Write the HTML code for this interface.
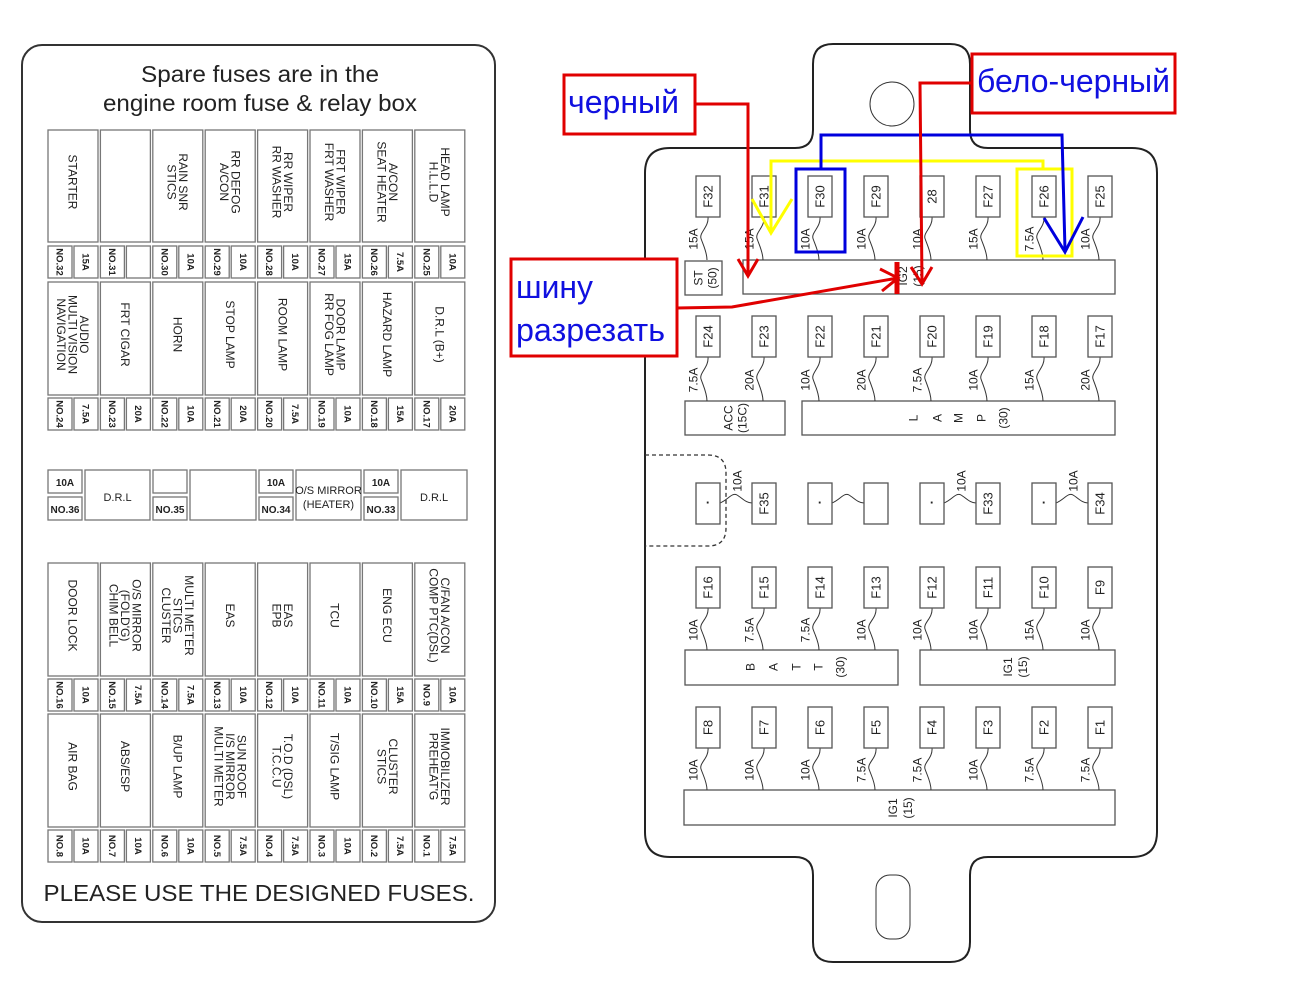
<!DOCTYPE html>
<html><head><meta charset="utf-8"><style>
html,body{margin:0;padding:0;background:#fff;width:1309px;height:1005px;overflow:hidden}
svg{display:block}
text{font-family:"Liberation Sans",sans-serif;fill:#222}
</style></head><body>
<svg id="s" width="1309" height="1005" viewBox="0 0 1309 1005" xmlns="http://www.w3.org/2000/svg">
<rect x="22" y="45" width="473" height="877" rx="20" fill="none" stroke="#333" stroke-width="2"/>
<text x="260" y="82" font-size="23" text-anchor="middle" textLength="238" lengthAdjust="spacingAndGlyphs">Spare fuses are in the</text>
<text x="260" y="111" font-size="23" text-anchor="middle" textLength="314" lengthAdjust="spacingAndGlyphs">engine room fuse &amp; relay box</text>
<text x="259" y="901" font-size="23" text-anchor="middle" textLength="431" lengthAdjust="spacingAndGlyphs">PLEASE USE THE DESIGNED FUSES.</text>
<g id="L"></g>
<path d="M670 148 H795 Q813 148 813 130 V64 Q813 44 833 44 H950 Q970 44 970 64 V130 Q970 148 988 148 H1132 Q1157 148 1157 173 V832 Q1157 857 1132 857 H988 Q970 857 970 875 V942 Q970 962 950 962 H833 Q813 962 813 942 V875 Q813 857 795 857 H670 Q645 857 645 832 V173 Q645 148 670 148 Z" fill="none" stroke="#222" stroke-width="2"/>
<circle cx="892" cy="104" r="22" fill="none" stroke="#333" stroke-width="1"/>
<rect x="876" y="875" width="34" height="64" rx="14" fill="none" stroke="#333" stroke-width="1"/>
<path d="M645 455 H708 Q726 455 726 473 V528 Q726 546 708 546 H645" fill="none" stroke="#333" stroke-width="1.3" stroke-dasharray="4,3"/>
<g id="R"></g>
<g fill="none" stroke-width="3">
<rect x="1017" y="169" width="55" height="87" stroke="#ffff00"/>
<polyline points="1043,169 1043,161 771,161 771,233" stroke="#ffff00"/>
<polyline points="752,199 771,233 792,199" stroke="#ffff00"/>
<rect x="796" y="169" width="49" height="83" stroke="#0000dd"/>
<polyline points="821,169 821,135 1062,135 1065,250" stroke="#0000dd"/>
<polyline points="1044,218 1065,252 1083,217" stroke="#0000dd"/>
<rect x="564" y="75" width="131" height="59" stroke="#e00000" fill="#fff"/>
<polyline points="695,104 748,104 748,275" stroke="#e00000"/>
<polyline points="738,259 748,276 758,259" stroke="#e00000"/>
<rect x="972" y="54" width="203" height="59" stroke="#e00000" fill="#fff"/>
<polyline points="972,83 920,83 922,283" stroke="#e00000"/>
<polyline points="911,267 922,284 932,267" stroke="#e00000"/>
<rect x="511" y="259" width="166" height="97" stroke="#e00000" fill="#fff"/>
<polyline points="677,308 732,307 898,278" stroke="#e00000"/>
<polyline points="880,269 898,278 882,291" stroke="#e00000"/>
<line x1="897" y1="262" x2="897" y2="294" stroke="#e00000" stroke-width="5"/>
</g>
<g font-size="32">
<text x="568" y="113" style="fill:#1010e0" textLength="111" lengthAdjust="spacingAndGlyphs">черный</text>
<text x="977" y="92" style="fill:#1010e0" textLength="193" lengthAdjust="spacingAndGlyphs">бело-черный</text>
<text x="516" y="298" style="fill:#1010e0" textLength="77" lengthAdjust="spacingAndGlyphs">шину</text>
<text x="516" y="341" style="fill:#1010e0" textLength="149" lengthAdjust="spacingAndGlyphs">разрезать</text>
</g>
</svg>
<script>
var NS="http://www.w3.org/2000/svg";
function el(p,t,a,txt){var e=document.createElementNS(NS,t);for(var k in a)e.setAttribute(k,a[k]);if(txt!==undefined)e.textContent=txt;p.appendChild(e);return e;}
function rtext(p,cx,cy,lines,rot,fs,lh,bold){
  var t=el(p,"text",{transform:"translate("+cx+","+cy+") rotate("+rot+")","text-anchor":"middle","font-size":fs});
  if(bold)t.setAttribute("font-weight","bold");
  var n=lines.length;
  for(var i=0;i<n;i++){el(t,"tspan",{x:0,y:((i-(n-1)/2)*lh+fs*0.36).toFixed(1)},lines[i]);}
}
var L=document.getElementById("L");
function box(p,x,y,w,h,sw,c){el(p,"rect",{x:x,y:y,width:w,height:h,fill:"#fff",stroke:c||"#777","stroke-width":sw||1.3});}
var rows=[
 {y:130,h:112,ny:246,labels:[["STARTER"],[],["RAIN SNR","STICS"],["RR DEFOG","A/CON"],["RR WIPER","RR WASHER"],["FRT WIPER","FRT WASHER"],["A/CON","SEAT HEATER"],["HEAD LAMP","H.L.L.D"]],
  nos:[["NO.32","15A"],["NO.31",""],["NO.30","10A"],["NO.29","10A"],["NO.28","10A"],["NO.27","15A"],["NO.26","7.5A"],["NO.25","10A"]]},
 {y:282,h:113,ny:398,labels:[["AUDIO","MULTI VISION","NAVIGATION"],["FRT CIGAR"],["HORN"],["STOP LAMP"],["ROOM LAMP"],["DOOR LAMP","RR FOG LAMP"],["HAZARD LAMP"],["D.R.L (B+)"]],
  nos:[["NO.24","7.5A"],["NO.23","20A"],["NO.22","10A"],["NO.21","20A"],["NO.20","7.5A"],["NO.19","10A"],["NO.18","15A"],["NO.17","20A"]]},
 {y:563,h:113,ny:679,labels:[["DOOR LOCK"],["O/S MIRROR","(FOLD'G)","CHIM BELL"],["MULTI METER","STICS","CLUSTER"],["EAS"],["EAS","EPB"],["TCU"],["ENG ECU"],["C/FAN A/CON","COMP PTC(DSL)"]],
  nos:[["NO.16","10A"],["NO.15","7.5A"],["NO.14","7.5A"],["NO.13","10A"],["NO.12","10A"],["NO.11","10A"],["NO.10","15A"],["NO.9","10A"]]},
 {y:714,h:113,ny:830,labels:[["AIR BAG"],["ABS/ESP"],["B/UP LAMP"],["SUN ROOF","I/S MIRROR","MULTI METER"],["T.O.D (DSL)","T.C.C.U"],["T/SIG LAMP"],["CLUSTER","STICS"],["IMMOBILIZER","PREHEAT'G"]],
  nos:[["NO.8","10A"],["NO.7","10A"],["NO.6","10A"],["NO.5","7.5A"],["NO.4","7.5A"],["NO.3","10A"],["NO.2","7.5A"],["NO.1","7.5A"]]}
];
rows.forEach(function(r){
 for(var i=0;i<8;i++){
  var x=48+i*52.4;
  box(L,x,r.y,50,r.h);
  if(r.labels[i].length)rtext(L,x+25,r.y+r.h/2-4,r.labels[i],90,12,11.5);
  box(L,x,r.ny,24,32);box(L,x+26,r.ny,24,32);
  rtext(L,x+12,r.ny+16,[r.nos[i][0]],90,9.5,10,true);
  if(r.nos[i][1])rtext(L,x+38,r.ny+16,[r.nos[i][1]],90,9.5,10,true);
 }
});
function mid(x,amp,no,bw,label){
 box(L,x,470,34,23);box(L,x,497,34,23);
 if(amp)el(L,"text",{x:x+17,y:486,"font-size":10,"font-weight":"bold","text-anchor":"middle"},amp);
 el(L,"text",{x:x+17,y:513,"font-size":10,"font-weight":"bold","text-anchor":"middle"},no);
 box(L,x+37,470,bw,50);
 var cx=x+37+bw/2;
 if(label.length==1)el(L,"text",{x:cx,y:501,"font-size":11,"text-anchor":"middle"},label[0]);
 else if(label.length==2){el(L,"text",{x:cx,y:494,"font-size":11,"text-anchor":"middle"},label[0]);el(L,"text",{x:cx,y:508,"font-size":11,"text-anchor":"middle"},label[1]);}
}
mid(48,"10A","NO.36",65,["D.R.L"]);
mid(153,"","NO.35",66,[]);
mid(259,"10A","NO.34",65,["O/S MIRROR","(HEATER)"]);
mid(364,"10A","NO.33",66,["D.R.L"]);
var R=document.getElementById("R");
function fuse(cx,y,label){box(R,cx-12,y,24,41,1.3,"#555");if(label)rtext(R,cx,y+20.5,[label],-90,13,13);}
function squig(cx,y1,y2){var m=(y1+y2)/2;el(R,"path",{d:"M"+cx+" "+y1+" C"+(cx+1)+" "+(y1+10)+" "+(cx-9)+" "+(m-6)+" "+(cx-7)+" "+m+" S"+(cx-1)+" "+(y2-8)+" "+(cx-1)+" "+y2,fill:"none",stroke:"#333","stroke-width":1});}
function frow(y,barTop,names,amps,ampY){
 for(var i=0;i<8;i++){var cx=708+i*56;squig(cx,y+41,barTop);fuse(cx,y,names[i]);rtext(R,cx-15,ampY,[amps[i]],-90,12,12);}
}
function bar(x,y,w,h){box(R,x,y,w,h,1.3,"#555");}
bar(685,261,37,34);bar(743,260,372,34);
frow(176,260,["F32","F31","F30","F29","28","F27","F26","F25"],["15A","15A","10A","10A","10A","15A","7.5A","10A"],239);
rtext(R,705,278,["ST","(50)"],-90,12,14);
rtext(R,910,276,["IG2","(15)"],-90,12,15);
bar(685,401,100,34);bar(802,401,313,34);
frow(316,401,["F24","F23","F22","F21","F20","F19","F18","F17"],["7.5A","20A","10A","20A","7.5A","10A","15A","20A"],380);
rtext(R,735,418,["ACC","(15C)"],-90,12,14);
[["L",913],["A",937],["M",958],["P",981],["(30)",1003]].forEach(function(a){rtext(R,a[1],418,[a[0]],-90,12,12);});
[[708,"F35",true],[820,"",false],[932,"F33",true],[1044,"F34",true]].forEach(function(p){
 var a=p[0],b=a+56;
 el(R,"path",{d:"M"+(a+12)+" 503 C"+(a+20)+" 500 "+(a+24)+" 492 "+(a+29)+" 495 S"+(a+38)+" 503 "+(b-12)+" 503",fill:"none",stroke:"#333","stroke-width":1});
 fuse(a,483,"");el(R,"text",{x:a,y:507,"font-size":13,"text-anchor":"middle","font-weight":"bold"},"·");
 fuse(b,483,p[1]);
 if(p[2])rtext(R,a+29,481,["10A"],-90,12,12);
});
bar(685,650,213,35);bar(920,650,195,35);
frow(567,650,["F16","F15","F14","F13","F12","F11","F10","F9"],["10A","7.5A","7.5A","10A","10A","10A","15A","10A"],630);
[["B",750],["A",773],["T",796],["T",818],["(30)",840]].forEach(function(a){rtext(R,a[1],667,[a[0]],-90,12,12);});
rtext(R,1015,667,["IG1","(15)"],-90,12,15);
bar(684,790,431,35);
frow(707,790,["F8","F7","F6","F5","F4","F3","F2","F1"],["10A","10A","10A","7.5A","7.5A","10A","7.5A","7.5A"],770);
rtext(R,900,808,["IG1","(15)"],-90,12,15);
</script>
</body></html>
